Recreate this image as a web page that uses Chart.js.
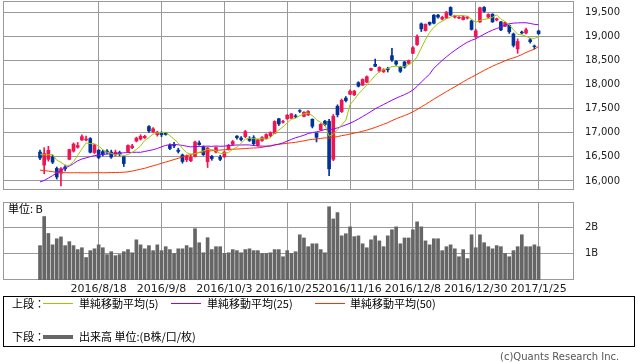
<!DOCTYPE html>
<html>
<head>
<meta charset="utf-8">
<script src="https://cdn.jsdelivr.net/npm/chart.js@4.4.1/dist/chart.umd.min.js"></script>
<style>
  body { margin: 0; background: #fff; width: 638px; height: 362px; position: relative; overflow: hidden;
         font-family: "Noto Sans CJK JP", "DejaVu Sans", sans-serif; }
  canvas { position: absolute; left: 0; }
  #price { top: 0; }
  #vol { top: 195px; }
  .t { position: absolute; font-size: 11px; line-height: 13px; color: #000; white-space: nowrap; }
  .ln { position: absolute; height: 1px; }
  #legend { position: absolute; left: 3px; top: 296px; width: 630px; height: 49px; border: 1px solid #000; }
</style>
</head>
<body>
<canvas id="price" width="638" height="191"></canvas>
<canvas id="vol" width="638" height="105"></canvas>
<div class="t" style="left:8px;top:202px;">単位: B</div>

<div id="legend"></div>
<div class="t" style="left:12px;top:297px;">上段：</div>
<div class="ln" style="left:43px;top:303px;width:30px;background:#99cc00;"></div>
<div class="t" style="left:79px;top:297px;">単純移動平均(5)</div>
<div class="ln" style="left:171px;top:303px;width:30px;background:#9900ff;"></div>
<div class="t" style="left:207px;top:297px;">単純移動平均(25)</div>
<div class="ln" style="left:315px;top:303px;width:30px;background:#ff3300;"></div>
<div class="t" style="left:350px;top:297px;">単純移動平均(50)</div>
<div class="t" style="left:12px;top:330px;">下段：</div>
<div class="ln" style="left:43px;top:335px;width:30px;height:4px;background:#666;"></div>
<div class="t" style="left:79px;top:330px;">出来高 単位:(B株/口/枚)</div>
<div class="t" style="left:500px;top:350px;color:#555;font-family:'DejaVu Sans',sans-serif;font-size:10px;">(c)Quants Research Inc.</div>

<script>
// trading days shown (Nikkei 225, daily)
const days = [
  '2016/7/28','2016/7/29','2016/8/1','2016/8/2','2016/8/3','2016/8/4','2016/8/5','2016/8/8','2016/8/9','2016/8/10',
  '2016/8/12','2016/8/15','2016/8/16','2016/8/17','2016/8/18','2016/8/19','2016/8/22','2016/8/23','2016/8/24','2016/8/25',
  '2016/8/26','2016/8/29','2016/8/30','2016/8/31','2016/9/1','2016/9/2','2016/9/5','2016/9/6','2016/9/7','2016/9/8',
  '2016/9/9','2016/9/12','2016/9/13','2016/9/14','2016/9/15','2016/9/16','2016/9/20','2016/9/21','2016/9/23','2016/9/26',
  '2016/9/27','2016/9/28','2016/9/29','2016/9/30','2016/10/3','2016/10/4','2016/10/5','2016/10/6','2016/10/7','2016/10/11',
  '2016/10/12','2016/10/13','2016/10/14','2016/10/17','2016/10/18','2016/10/19','2016/10/20','2016/10/21','2016/10/24','2016/10/25',
  '2016/10/26','2016/10/27','2016/10/28','2016/10/31','2016/11/1','2016/11/2','2016/11/4','2016/11/7','2016/11/8','2016/11/9',
  '2016/11/10','2016/11/11','2016/11/14','2016/11/15','2016/11/16','2016/11/17','2016/11/18','2016/11/21','2016/11/22','2016/11/24',
  '2016/11/25','2016/11/28','2016/11/29','2016/11/30','2016/12/1','2016/12/2','2016/12/5','2016/12/6','2016/12/7','2016/12/8',
  '2016/12/9','2016/12/12','2016/12/13','2016/12/14','2016/12/15','2016/12/16','2016/12/19','2016/12/20','2016/12/21','2016/12/22',
  '2016/12/26','2016/12/27','2016/12/28','2016/12/29','2016/12/30','2017/1/4','2017/1/5','2017/1/6','2017/1/10','2017/1/11',
  '2017/1/12','2017/1/13','2017/1/16','2017/1/17','2017/1/18','2017/1/19','2017/1/20','2017/1/23','2017/1/24','2017/1/25'
];

const open = [
  16600,16330,16450,16500,16260,16160,16290,16450,16620,16700,
  16850,16850,16880,16590,16640,16610,16620,16600,16540,16590,
  16500,16610,16690,16830,16870,16900,17130,17020,16960,16990,
  16990,16740,16760,16640,16540,16440,16420,16510,16790,16710,
  16400,16510,16600,16490,16500,16650,16760,16930,16890,16920,
  16880,16900,16740,16840,16880,16940,16990,17290,17220,17290,
  17300,17350,17460,17340,17370,17280,16990,17060,17240,17240,
  16450,17550,17440,17720,17800,17790,18040,17990,18050,18300,
  18420,18280,18270,18330,18600,18480,18360,18470,18440,18650,
  18830,19260,19120,19290,19440,19440,19360,19380,19600,19400,
  19380,19350,19380,19320,18990,19300,19600,19400,19460,19340,
  19300,19210,19230,19050,18740,19090,19070,18930,18800,19110
];
const high = [
  16640,16690,16720,16540,16290,16280,16330,16660,16790,16800,
  16960,16930,16900,16760,16650,16640,16650,16640,16640,16620,
  16520,16750,16760,16910,16960,16950,17150,17110,17030,17020,
  17010,16770,16800,16680,16560,16540,16560,16830,16830,16730,
  16700,16530,16710,16530,16620,16760,16840,16940,16920,17050,
  16920,16940,16870,16920,16980,17020,17250,17300,17260,17380,
  17400,17380,17480,17440,17460,17290,17000,17190,17260,17280,
  17380,17580,17700,17750,17890,17880,18060,18120,18180,18340,
  18530,18370,18330,18360,18750,18500,18380,18480,18510,18790,
  19030,19280,19260,19300,19450,19460,19420,19520,19615,19440,
  19410,19420,19420,19340,19150,19610,19620,19470,19470,19380,
  19310,19300,19240,19070,18950,19110,19170,18960,18820,19130
];
const low = [
  16440,16150,16410,16360,16040,15900,16210,16440,16600,16680,
  16840,16830,16580,16570,16460,16520,16560,16470,16520,16520,
  16300,16600,16670,16810,16850,16880,17010,17000,16930,16920,
  16950,16650,16690,16580,16370,16400,16400,16500,16740,16530,
  16280,16430,16580,16420,16490,16640,16740,16870,16830,16900,
  16820,16740,16720,16820,16870,16920,16980,17150,17200,17280,
  17290,17310,17420,17330,17360,17100,16810,17050,17150,16110,
  16420,17330,17420,17640,17790,17770,17950,17980,18040,18290,
  18370,18260,18250,18260,18480,18400,18250,18340,18420,18640,
  18810,19100,19110,19230,19260,19380,19340,19370,19430,19380,
  19370,19340,19360,19130,18970,19290,19500,19380,19290,19320,
  19120,19200,19060,18780,18650,19050,19050,18860,18740,19040
];
const close = [
  16477,16569,16636,16391,16083,16255,16254,16651,16765,16735,
  16920,16870,16597,16746,16486,16546,16598,16497,16597,16556,
  16361,16737,16725,16887,16927,16926,17038,17082,17012,16959,
  16966,16673,16729,16614,16405,16519,16492,16808,16754,16545,
  16684,16465,16694,16450,16599,16736,16819,16899,16860,17025,
  16840,16774,16856,16900,16964,16999,17235,17185,17234,17365,
  17392,17336,17446,17425,17442,17135,16905,17177,17171,16252,
  17344,17375,17673,17668,17862,17863,17967,18106,18163,18333,
  18381,18357,18307,18308,18513,18426,18275,18361,18497,18765,
  18996,19155,19251,19254,19274,19401,19392,19495,19444,19428,
  19397,19403,19402,19145,19114,19594,19521,19454,19301,19365,
  19135,19287,19095,18814,18894,19072,19138,18891,18788,19057
];
const ma5 = [
  16554,16543,16546,16548,16431,16387,16324,16327,16402,16532,
  16665,16788,16777,16774,16724,16649,16595,16575,16545,16559,
  16522,16550,16595,16653,16727,16840,16901,16972,16997,17003,
  17011,16938,16868,16788,16677,16588,16552,16568,16596,16624,
  16657,16651,16628,16568,16578,16589,16660,16701,16783,16868,
  16889,16880,16871,16879,16867,16899,16991,17057,17123,17204,
  17282,17302,17355,17393,17408,17357,17271,17217,17166,16928,
  16970,17064,17163,17262,17584,17688,17807,17893,17992,18086,
  18190,18268,18308,18337,18373,18382,18366,18377,18414,18465,
  18579,18755,18933,19084,19186,19267,19314,19363,19401,19432,
  19431,19433,19415,19355,19292,19332,19355,19366,19397,19447,
  19355,19308,19237,19139,19045,19032,19003,18962,18957,18989
];
const ma25 = [
  15980,16010,16060,16110,16165,16220,16270,16310,16360,16420,
  16455,16480,16505,16525,16540,16550,16560,16565,16572,16578,
  16584,16590,16594,16596,16595,16613,16631,16649,16674,16709,
  16738,16754,16757,16751,16738,16722,16707,16715,16716,16718,
  16724,16718,16726,16720,16722,16737,16740,16747,16746,16750,
  16747,16736,16727,16723,16723,16724,16747,16765,16790,16828,
  16863,16897,16922,16949,16985,17003,17021,17040,17069,17055,
  17079,17101,17132,17165,17198,17239,17287,17337,17387,17442,
  17497,17542,17587,17630,17676,17717,17755,17792,17834,17887,
  17962,18052,18135,18218,18339,18421,18502,18575,18646,18708,
  18770,18827,18879,18918,18950,18998,19045,19091,19130,19164,
  19193,19233,19263,19275,19280,19283,19283,19268,19250,19241
];
const ma50 = [
  16225,16215,16205,16192,16180,16174,16172,16170,16170,16172,
  16170,16168,16170,16172,16172,16170,16172,16175,16176,16178,
  16182,16190,16205,16225,16245,16263,16290,16315,16340,16367,
  16392,16418,16445,16471,16497,16522,16548,16574,16588,16602,
  16615,16628,16635,16642,16648,16654,16658,16663,16668,16672,
  16680,16684,16688,16698,16716,16731,16750,16761,16771,16783,
  16793,16802,16819,16832,16852,16863,16869,16883,16895,16888,
  16908,16921,16940,16955,16974,16993,17011,17032,17055,17082,
  17111,17144,17176,17210,17252,17290,17326,17357,17392,17436,
  17482,17536,17587,17643,17697,17750,17802,17854,17905,17953,
  18004,18057,18108,18153,18196,18248,18294,18339,18380,18420,
  18455,18494,18527,18555,18584,18623,18667,18702,18734,18790
];
// volume, billions of shares
const volume = [
  1.30,2.40,1.76,1.33,1.56,1.63,1.30,1.45,1.30,1.15,
  1.22,0.85,1.11,1.18,1.33,1.22,0.96,1.07,0.92,0.96,
  1.07,1.15,1.03,1.52,1.33,1.18,1.30,1.11,1.33,1.11,
  1.26,1.15,1.00,1.18,1.18,1.30,1.22,1.94,1.41,1.03,
  1.60,1.15,1.26,1.26,1.00,1.03,1.15,1.11,1.03,1.15,
  1.18,1.11,1.11,1.00,1.00,1.03,1.15,1.15,0.88,1.11,
  1.00,1.07,1.71,1.59,1.26,1.37,1.37,1.15,1.03,2.77,
  2.31,2.55,1.67,1.75,2.01,1.64,1.67,1.37,1.22,1.52,
  1.67,1.48,1.26,1.67,1.90,2.01,1.37,1.59,1.59,1.90,
  2.20,2.01,1.48,1.33,1.56,1.56,1.11,1.26,1.33,1.18,
  0.88,1.15,0.81,1.71,1.22,1.71,1.41,1.26,1.18,1.30,
  1.26,1.00,0.88,1.11,1.26,1.71,1.26,1.26,1.33,1.26
];

const xTicks = [14, 29, 44, 59, 74, 89, 104, 119];   // every 15 trading days
const priceTicks = [16000, 16500, 17000, 17500, 18000, 18500, 19000, 19500];
const volTicks = [1, 2];

const UP = '#f01450', DOWN = '#003399';
const GRID = '#999';
const X_MIN = -8.83, X_MAX = 127.45;

const pts = arr => arr.map((v, i) => ({ x: i, y: v }));
const spans = (a, b) => a.map((v, i) => ({ x: i, y: [v, b[i]] }));
const candleColor = close.map((c, i) => c >= open[i] ? UP : DOWN);

const frame = {
  id: 'frame',
  beforeDatasetsDraw(chart) {
    const { ctx, chartArea: a } = chart;
    ctx.save();
    ctx.strokeStyle = GRID;
    ctx.lineWidth = 1;
    ctx.strokeRect(Math.round(a.left) + 0.5, Math.round(a.top) + 0.5,
                   Math.round(a.right - a.left) - 1, Math.round(a.bottom - a.top) - 1);
    ctx.restore();
  }
};

const noPad = s => { s.paddingTop = 0; s.paddingBottom = 0; s.paddingLeft = 0; s.paddingRight = 0; };

function xScale(showLabels) {
  return {
    type: 'linear', min: X_MIN, max: X_MAX, offset: false,
    afterBuildTicks: s => { s.ticks = xTicks.map(v => ({ value: v })); },
    afterFit: s => { s.height = showLabels ? 20 : 1; noPad(s); },
    grid: { color: GRID, drawTicks: false, offset: false },
    border: { display: false },
    ticks: {
      display: showLabels, padding: 3, color: '#222', maxRotation: 0, autoSkip: false,
      font: { family: 'DejaVu Sans', size: 11 },
      callback: v => days[v]
    }
  };
}

Chart.defaults.animation = false;

new Chart(document.getElementById('price'), {
  type: 'bar',
  data: {
    datasets: [
      { type: 'line', data: pts(ma5), borderColor: '#99cc00', borderWidth: 1, pointRadius: 0, order: 0 },
      { type: 'line', data: pts(ma25), borderColor: '#9900ff', borderWidth: 1, pointRadius: 0, order: 0 },
      { type: 'line', data: pts(ma50), borderColor: '#ff3300', borderWidth: 1, pointRadius: 0, order: 0 },
      { data: spans(open, close), backgroundColor: candleColor, barThickness: 3, grouped: false, order: 1 },
      { data: spans(low, high), backgroundColor: candleColor, barThickness: 1, grouped: false, order: 2 }
    ]
  },
  options: {
    responsive: false,
    layout: { padding: { left: 3, top: 1, right: 0, bottom: 0 } },
    plugins: { legend: { display: false }, tooltip: { enabled: false } },
    scales: {
      x: xScale(false),
      y: {
        position: 'right', min: 15813, max: 19734,
        afterBuildTicks: s => { s.ticks = priceTicks.map(v => ({ value: v })); },
        afterFit: s => { s.width = 64; noPad(s); },
        grid: { color: GRID, drawTicks: false },
        border: { display: false },
        ticks: {
          padding: 11, color: '#222',
          font: { family: 'DejaVu Sans', size: 10 },
          callback: v => v.toLocaleString('en-US')
        }
      }
    }
  },
  plugins: [frame]
});

new Chart(document.getElementById('vol'), {
  type: 'bar',
  data: {
    datasets: [
      { data: pts(volume), backgroundColor: '#666', barThickness: 3 }
    ]
  },
  options: {
    responsive: false,
    layout: { padding: { left: 3, top: 7, right: 0, bottom: 0 } },
    plugins: { legend: { display: false }, tooltip: { enabled: false } },
    scales: {
      x: xScale(true),
      y: {
        position: 'right', min: 0, max: 2.95,
        afterBuildTicks: s => { s.ticks = volTicks.map(v => ({ value: v })); },
        afterFit: s => { s.width = 64; noPad(s); },
        grid: { color: GRID, drawTicks: false },
        border: { display: false },
        ticks: {
          padding: 11, color: '#222',
          font: { family: 'DejaVu Sans', size: 10 },
          callback: v => v + 'B'
        }
      }
    }
  },
  plugins: [frame]
});
</script>
</body>
</html>
